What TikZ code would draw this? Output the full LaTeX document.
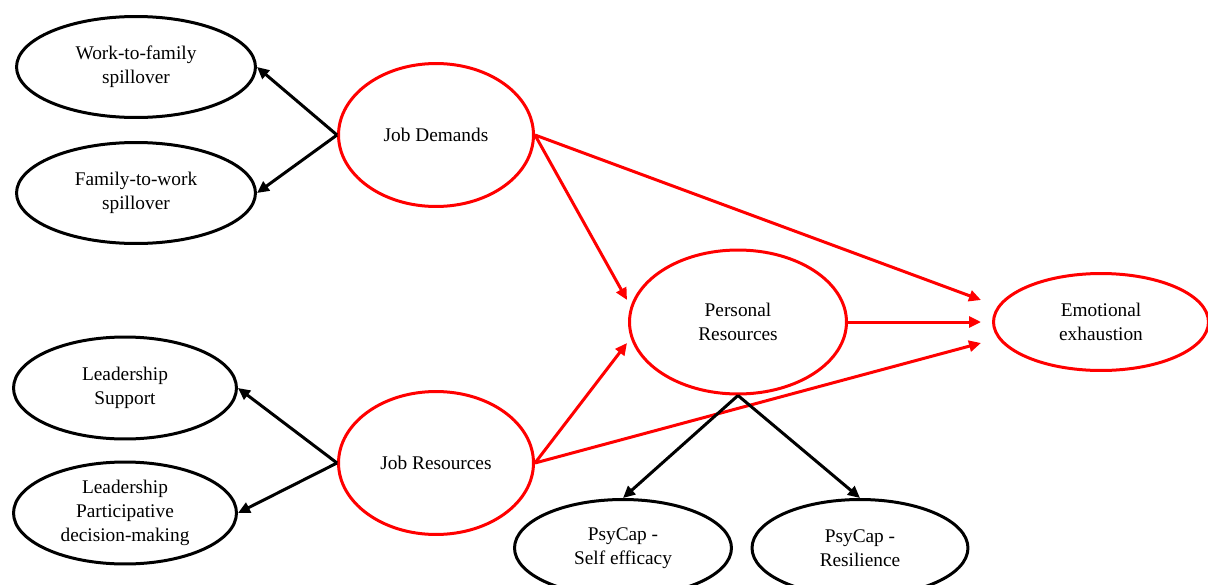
\documentclass[tikz,border=0pt]{standalone}
\usepackage{fontspec}
\setmainfont{Liberation Serif}
\usetikzlibrary{shapes.geometric,arrows.meta}

\begin{document}
\begin{tikzpicture}[x=0.02cm,y=-0.02cm]
  \tikzstyle{every node}+=[inner sep=0pt,align=center,font=\fontsize{11}{13.7}\selectfont]
  \tikzstyle{blkoval}=[ellipse,draw=black,line width=0.06cm]
  \tikzstyle{redoval}=[ellipse,draw=red,line width=0.06cm]
  \tikzstyle{blkarrow}=[draw=black,line width=0.06cm,-{Triangle[length=0.24cm,width=0.22cm]}]
  \tikzstyle{redarrow}=[draw=red,line width=0.06cm,-{Triangle[length=0.24cm,width=0.22cm]}]
  \useasboundingbox (0,0) rectangle (1208,585);
  % left column
  \node [blkoval,minimum width=4.78cm,minimum height=2.02cm] (work) at (136,67) {Work-to-family\\spillover};
  \node [blkoval,minimum width=4.78cm,minimum height=2.02cm] (fam) at (136,193) {Family-to-work\\spillover};
  \node [blkoval,minimum width=4.46cm,minimum height=2.04cm] (ls) at (125,388) {Leadership\\Support};
  \node [blkoval,minimum width=4.46cm,minimum height=2.04cm] (lp) at (125,513) {Leadership\\Participative\\decision-making};
  % job demands and resources
  \node [redoval,minimum width=3.9cm,minimum height=2.86cm] (jd) at (436,135) {Job Demands};
  \node [redoval,minimum width=3.9cm,minimum height=2.86cm] (jr) at (436,463) {Job Resources};
  % personal resources and outcome
  \node [redoval,minimum width=4.34cm,minimum height=2.88cm] (pr) at (738,322) {Personal\\Resources};
  \node [redoval,minimum width=4.3cm,minimum height=1.94cm] (ee) at (1101,322) {Emotional\\exhaustion};
  \node [blkoval,minimum width=4.34cm,minimum height=1.94cm] (se) at (623,548) {PsyCap -\\Self efficacy};
  \node [blkoval,minimum width=4.32cm,minimum height=1.94cm] (res) at (860,548) {PsyCap -\\Resilience};
  % connectors
  \draw [blkarrow] (jd.west) -- (work.east);
  \draw [blkarrow] (jd.west) -- (fam.east);
  \draw [blkarrow] (jr.west) -- (ls.east);
  \draw [blkarrow] (jr.west) -- (lp.east);
  \draw [redarrow] (jd.east) -- ([shift={(-1,-22)}]pr.west);
  \draw [redarrow] (jr.east) -- ([shift={(-1,21)}]pr.west);
  \draw [redarrow] (jd.east) -- ([shift={(-11,-22)}]ee.west);
  \draw [redarrow] (pr.east) -- ([shift={(-11,0)}]ee.west);
  \draw [redarrow] (jr.east) -- ([shift={(-11,21)}]ee.west);
  \draw [blkarrow] (pr.south) -- (se.north);
  \draw [blkarrow] (pr.south) -- (res.north);
\end{tikzpicture}
\end{document}
